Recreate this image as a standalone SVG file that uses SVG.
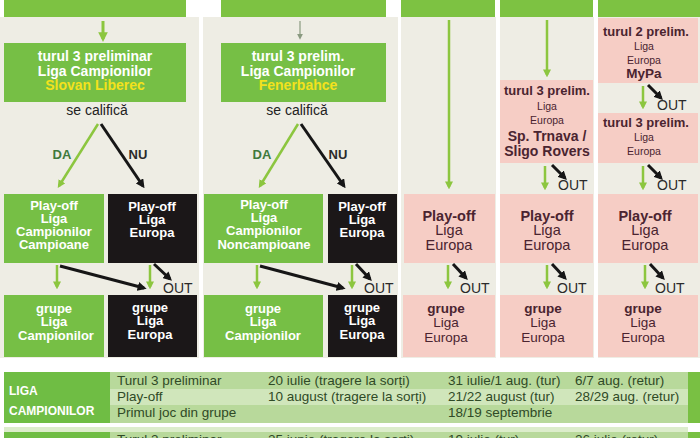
<svg xmlns="http://www.w3.org/2000/svg" width="700" height="438" viewBox="0 0 700 438">
<style>
text{font-family:"Liberation Sans",Arial,sans-serif;text-anchor:middle}
.w{fill:#ffffff;font-weight:bold}
.wb{fill:#ffffff;font-weight:bold;font-size:13px}
.y{fill:#f3e21c;font-weight:bold;font-size:14px}
.h{font-size:14px}
.pb{fill:#4a2430;font-weight:bold}
.pr{fill:#4a2430}
.out{fill:#2a2a2a;font-size:14px;text-anchor:start}
.t{fill:#2f4a26;font-size:13.5px;text-anchor:start}
.lc{fill:#ffffff;font-size:12px;font-weight:bold;text-anchor:start}
.gl{stroke:#8cc63f;stroke-width:2.5;fill:none}
.bl{stroke:#161616;stroke-width:3;fill:none}
.green{fill:#76bf45}
.black{fill:#1b1718}
.pink{fill:#f6cdc5}
.beige{fill:#eeede4}
.hdr{fill:#7dc242}
</style>
<defs>
<marker id="ag" viewBox="0 0 10 10" refX="7" refY="5" markerWidth="3.2" markerHeight="3.2" orient="auto"><path d="M0,0 L10,5 L0,10 z" fill="#8cc63f"/></marker>
<marker id="ab" viewBox="0 0 10 10" refX="7" refY="5" markerWidth="3" markerHeight="3" orient="auto"><path d="M0,0 L10,5 L0,10 z" fill="#161616"/></marker>
<marker id="agr" viewBox="0 0 10 10" refX="7" refY="5" markerWidth="5" markerHeight="5" orient="auto"><path d="M0,0 L10,5 L0,10 z" fill="#8a9a80"/></marker>
</defs>
<rect width="700" height="438" fill="#ffffff"/>
<g id="backgrounds">
<rect class="beige" x="0" y="17" width="199" height="341"/>
<rect class="beige" x="203" y="17" width="195" height="341"/>
<rect class="beige" x="401" y="17" width="95" height="341"/>
<rect class="beige" x="500" y="17" width="94" height="341"/>
<rect class="beige" x="598" y="17" width="102" height="341"/>
<rect class="hdr" x="4" y="0" width="182" height="17"/>
<rect class="hdr" x="221" y="0" width="165" height="17"/>
<rect class="hdr" x="401" y="0" width="94" height="17"/>
<rect class="hdr" x="500" y="0" width="93" height="17"/>
<rect class="hdr" x="598" y="0" width="102" height="17"/>
</g>
<g id="c1-prelim">
<rect class="green" x="4" y="43" width="182" height="59"/>
<text class="w h" x="95" y="61">turul 3 preliminar</text>
<text class="w h" x="95" y="75.5">Liga Campionilor</text>
<text class="y" x="95" y="90">Slovan Liberec</text>
</g>
<g id="c1-playoff-lc">
<rect class="green" x="4" y="194" width="100" height="69"/>
<text class="wb" x="54" y="210">Play-off</text>
<text class="wb" x="54" y="223">Liga</text>
<text class="wb" x="54" y="236">Campionilor</text>
<text class="wb" x="54" y="249">Campioane</text>
</g>
<g id="c1-playoff-le">
<rect class="black" x="108" y="194" width="89" height="69"/>
<text class="wb" x="152" y="211">Play-off</text>
<text class="wb" x="152" y="224">Liga</text>
<text class="wb" x="152" y="237">Europa</text>
</g>
<g id="c1-grupe-lc">
<rect class="green" x="4" y="295" width="100" height="62"/>
<text class="wb" x="54" y="313">grupe</text>
<text class="wb" x="54" y="326">Liga</text>
<text class="wb" x="56" y="340">Campionilor</text>
</g>
<g id="c1-grupe-le">
<rect class="black" x="108" y="295" width="89" height="62"/>
<text class="wb" x="150" y="312">grupe</text>
<text class="wb" x="150" y="325">Liga</text>
<text class="wb" x="150" y="339">Europa</text>
</g>
<g id="c2-prelim">
<rect class="green" x="221" y="43" width="165" height="59"/>
<text class="w h" x="298" y="61">turul 3 prelim.</text>
<text class="w h" x="298" y="75.5">Liga Campionilor</text>
<text class="y" x="298" y="90">Fenerbahce</text>
</g>
<g id="c2-playoff-lc">
<rect class="green" x="204" y="194" width="119" height="69"/>
<text class="wb" x="264" y="209">Play-off</text>
<text class="wb" x="264" y="222">Liga</text>
<text class="wb" x="264" y="235">Campionilor</text>
<text class="wb" x="264" y="249">Noncampioane</text>
</g>
<g id="c2-playoff-le">
<rect class="black" x="328" y="194" width="69" height="69"/>
<text class="wb" x="362" y="211">Play-off</text>
<text class="wb" x="362" y="224">Liga</text>
<text class="wb" x="362" y="237">Europa</text>
</g>
<g id="c2-grupe-lc">
<rect class="green" x="204" y="295" width="119" height="62"/>
<text class="wb" x="263" y="313">grupe</text>
<text class="wb" x="263" y="326">Liga</text>
<text class="wb" x="263" y="340">Campionilor</text>
</g>
<g id="c2-grupe-le">
<rect class="black" x="328" y="295" width="69" height="62"/>
<text class="wb" x="362" y="312">grupe</text>
<text class="wb" x="362" y="325">Liga</text>
<text class="wb" x="362" y="339">Europa</text>
</g>
<g id="c3-playoff">
<rect class="pink" x="404" y="194" width="91" height="69"/>
<text class="pb" x="449" y="221" font-size="14.5">Play-off</text>
<text class="pr" x="449" y="235" font-size="14.5">Liga</text>
<text class="pr" x="449" y="250" font-size="14.5">Europa</text>
</g>
<g id="c3-grupe">
<rect class="pink" x="403" y="295" width="92" height="62"/>
<text class="pb" x="446" y="313" font-size="13.5">grupe</text>
<text class="pr" x="446" y="327" font-size="13.5">Liga</text>
<text class="pr" x="446" y="342" font-size="13.5">Europa</text>
</g>
<g id="c4-prelim">
<rect class="pink" x="500" y="80" width="93" height="83"/>
<text class="pb" x="547" y="95" font-size="13">turul 3 prelim.</text>
<text class="pr" x="547" y="110" font-size="10.5">Liga</text>
<text class="pr" x="547" y="124" font-size="10.5">Europa</text>
<text class="pb" x="547" y="141" font-size="14">Sp. Trnava /</text>
<text class="pb" x="547" y="156" font-size="14">Sligo Rovers</text>
</g>
<g id="c4-playoff">
<rect class="pink" x="500" y="194" width="93" height="69"/>
<text class="pb" x="547" y="221" font-size="14.5">Play-off</text>
<text class="pr" x="547" y="235" font-size="14.5">Liga</text>
<text class="pr" x="547" y="250" font-size="14.5">Europa</text>
</g>
<g id="c4-grupe">
<rect class="pink" x="500" y="295" width="93" height="62"/>
<text class="pb" x="543" y="313" font-size="13.5">grupe</text>
<text class="pr" x="543" y="327" font-size="13.5">Liga</text>
<text class="pr" x="543" y="342" font-size="13.5">Europa</text>
</g>
<g id="c5-prelim2">
<rect class="pink" x="598" y="18" width="100" height="65"/>
<text class="pb" x="646" y="36" font-size="13">turul 2 prelim.</text>
<text class="pr" x="644" y="50" font-size="10.5">Liga</text>
<text class="pr" x="644" y="64" font-size="10.5">Europa</text>
<text class="pb" x="644" y="78" font-size="13.5">MyPa</text>
</g>
<g id="c5-prelim3">
<rect class="pink" x="598" y="113" width="100" height="50"/>
<text class="pb" x="646" y="127" font-size="13">turul 3 prelim.</text>
<text class="pr" x="644" y="141" font-size="10.5">Liga</text>
<text class="pr" x="644" y="155" font-size="10.5">Europa</text>
</g>
<g id="c5-playoff">
<rect class="pink" x="598" y="194" width="100" height="69"/>
<text class="pb" x="645" y="221" font-size="14.5">Play-off</text>
<text class="pr" x="645" y="235" font-size="14.5">Liga</text>
<text class="pr" x="645" y="250" font-size="14.5">Europa</text>
</g>
<g id="c5-grupe">
<rect class="pink" x="598" y="295" width="100" height="62"/>
<text class="pb" x="643" y="313" font-size="13.5">grupe</text>
<text class="pr" x="643" y="327" font-size="13.5">Liga</text>
<text class="pr" x="643" y="342" font-size="13.5">Europa</text>
</g>
<g id="connectors">
<line x1="103" y1="21" x2="103" y2="39" stroke="#8cc63f" stroke-width="3" marker-end="url(#ag)"/>
<line x1="300" y1="21" x2="300" y2="38" stroke="#8a9a80" stroke-width="1.2" marker-end="url(#agr)"/>
<line class="gl" x1="98" y1="124" x2="59" y2="186" stroke-width="3" marker-end="url(#ag)"/>
<line class="bl" x1="101" y1="124" x2="143" y2="186" marker-end="url(#ab)"/>
<line class="gl" x1="298" y1="124" x2="260" y2="186" stroke-width="3" marker-end="url(#ag)"/>
<line class="bl" x1="301" y1="124" x2="344" y2="186" marker-end="url(#ab)"/>
<line class="gl" x1="449" y1="20" x2="449" y2="187" marker-end="url(#ag)"/>
<line class="gl" x1="547" y1="20" x2="547" y2="75" marker-end="url(#ag)"/>
<line class="gl" x1="57" y1="265" x2="57" y2="287" marker-end="url(#ag)"/>
<line class="bl" x1="60" y1="266" x2="144" y2="288" stroke-width="2.6" marker-end="url(#ab)"/>
<line class="gl" x1="150" y1="265" x2="150" y2="287" marker-end="url(#ag)"/>
<line class="bl" x1="154" y1="264" x2="170" y2="279" marker-end="url(#ab)"/>
<line class="gl" x1="257" y1="265" x2="257" y2="287" marker-end="url(#ag)"/>
<line class="bl" x1="260" y1="266" x2="343" y2="288" stroke-width="2.6" marker-end="url(#ab)"/>
<line class="gl" x1="352" y1="265" x2="352" y2="287" marker-end="url(#ag)"/>
<line class="bl" x1="356" y1="264" x2="370" y2="279" marker-end="url(#ab)"/>
<line class="gl" x1="448" y1="265" x2="448" y2="287" marker-end="url(#ag)"/>
<line class="bl" x1="453" y1="264" x2="466" y2="278" marker-end="url(#ab)"/>
<line class="gl" x1="547" y1="265" x2="547" y2="287" marker-end="url(#ag)"/>
<line class="bl" x1="552" y1="264" x2="565" y2="278" marker-end="url(#ab)"/>
<line class="gl" x1="645" y1="265" x2="645" y2="287" marker-end="url(#ag)"/>
<line class="bl" x1="650" y1="264" x2="663" y2="278" marker-end="url(#ab)"/>
<line class="gl" x1="545" y1="166" x2="545" y2="188" marker-end="url(#ag)"/>
<line class="bl" x1="552" y1="165" x2="565" y2="178" marker-end="url(#ab)"/>
<line class="gl" x1="643" y1="86" x2="643" y2="107" marker-end="url(#ag)"/>
<line class="bl" x1="648" y1="85" x2="661" y2="98" marker-end="url(#ab)"/>
<line class="gl" x1="643" y1="166" x2="643" y2="188" marker-end="url(#ag)"/>
<line class="bl" x1="648" y1="165" x2="661" y2="178" marker-end="url(#ab)"/>
</g>
<g id="labels">
<text x="97" y="115" font-size="14" fill="#222">se califică</text>
<text x="297" y="115" font-size="14" fill="#222">se califică</text>
<text x="62" y="159" font-size="13" font-weight="bold" fill="#3f7a3c">DA</text>
<text x="138" y="159" font-size="13" font-weight="bold" fill="#2a2a2a">NU</text>
<text x="262" y="159" font-size="13" font-weight="bold" fill="#3f7a3c">DA</text>
<text x="338" y="159" font-size="13" font-weight="bold" fill="#2a2a2a">NU</text>
<text class="out" x="163" y="293">OUT</text>
<text class="out" x="364" y="293">OUT</text>
<text class="out" x="460" y="293">OUT</text>
<text class="out" x="557" y="293">OUT</text>
<text class="out" x="655" y="293">OUT</text>
<text class="out" x="558" y="190">OUT</text>
<text class="out" x="657" y="110">OUT</text>
<text class="out" x="657" y="190">OUT</text>
</g>
<g id="table">
<rect x="110" y="372" width="578" height="17" fill="#b8d99b"/>
<rect x="110" y="389" width="578" height="16" fill="#d0e6bb"/>
<rect x="110" y="405" width="578" height="18" fill="#b8d99b"/>
<rect x="4" y="372" width="106" height="51" fill="#6fbd44"/>
<rect x="688" y="372" width="12" height="51" fill="#79c043"/>
<text class="lc" x="9" y="395">LIGA</text>
<text class="lc" x="9" y="415">CAMPIONILOR</text>
<text class="t" x="117" y="385">Turul 3 preliminar</text>
<text class="t" x="268" y="385">20 iulie (tragere la sorți)</text>
<text class="t" x="448" y="385">31 iulie/1 aug. (tur)</text>
<text class="t" x="575" y="385">6/7 aug. (retur)</text>
<text class="t" x="117" y="401">Play-off</text>
<text class="t" x="268" y="401">10 august (tragere la sorți)</text>
<text class="t" x="448" y="401">21/22 august (tur)</text>
<text class="t" x="575" y="401">28/29 aug. (retur)</text>
<text class="t" x="117" y="417">Primul joc din grupe</text>
<text class="t" x="448" y="417">18/19 septembrie</text>
<rect x="4" y="427" width="684" height="5" fill="#dcedcb"/>
<rect x="110" y="432" width="578" height="6" fill="#b8d99b"/>
<rect x="4" y="432" width="106" height="6" fill="#6fbd44"/>
<rect x="688" y="432" width="12" height="6" fill="#79c043"/>
<text class="t" x="117" y="444">Turul 3 preliminar</text>
<text class="t" x="268" y="444">25 iunie (tragere la sorți)</text>
<text class="t" x="448" y="444">19 iulie (tur)</text>
<text class="t" x="575" y="444">26 iulie (retur)</text>
</g>
</svg>
